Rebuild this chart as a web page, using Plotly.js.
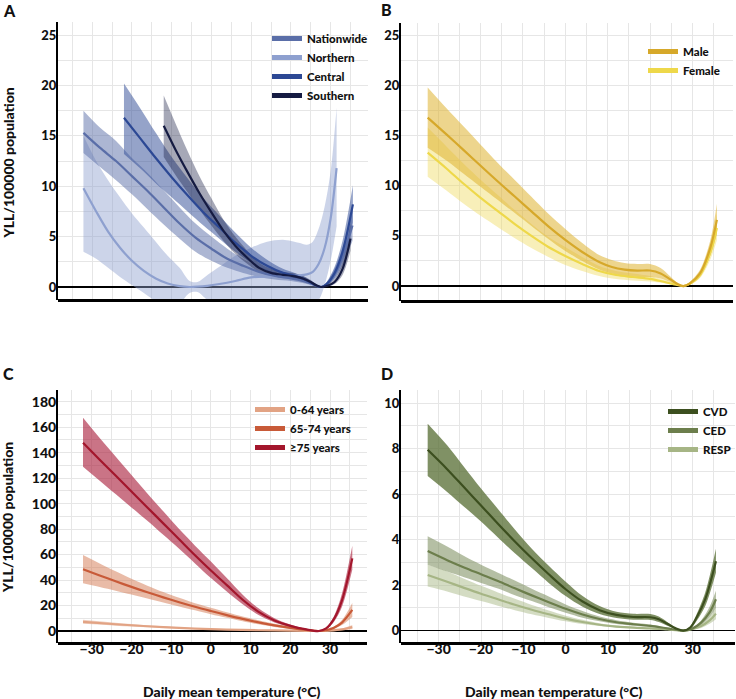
<!DOCTYPE html>
<html><head><meta charset="utf-8">
<script src="https://cdn.plot.ly/plotly-3.0.1.min.js"></script>
<style>html,body{margin:0;padding:0;background:#fff}#chart{width:736px;height:699px}</style>
</head><body><div id="chart"></div>
<script>
// ---------------- Panel A: region ----------------
const A_nat_T   = [-32.2, -28, -24, -20, -16, -12, -8, -4, 0, 4, 8, 12, 16, 20, 23, 25, 26.5, 27.6, 29, 31, 33, 35.5];
const A_nat_mid = [15.3, 13.8, 12.5, 11.0, 9.5, 7.9, 6.3, 4.9, 3.8, 2.8, 2.1, 1.5, 1.1, 0.85, 0.6, 0.35, 0.1, 0, 0.3, 1.3, 3.0, 6.1];
const A_nat_lo  = [13.3, 11.9, 10.6, 9.2, 7.7, 6.2, 4.8, 3.5, 2.6, 1.9, 1.4, 1.0, 0.75, 0.6, 0.4, 0.2, 0.05, 0, 0.15, 0.8, 2.1, 4.6];
const A_nat_hi  = [17.5, 15.8, 14.5, 12.8, 11.3, 9.6, 7.9, 6.3, 5.0, 3.8, 2.8, 2.0, 1.45, 1.1, 0.8, 0.5, 0.15, 0, 0.45, 1.8, 3.9, 7.6];

const A_nor_T   = [-32.2, -29, -26, -23, -20, -17, -14, -11, -8, -5.5, -3.5, -1, 2, 6, 10, 14, 18, 22, 24, 25.5, 27, 28.5, 30, 31.5];
const A_nor_mid = [9.8, 7.5, 5.5, 3.9, 2.6, 1.6, 0.85, 0.35, 0.08, 0, 0.03, 0.12, 0.3, 0.6, 0.95, 1.05, 1.1, 1.15, 1.25, 1.5, 2.3, 3.9, 6.8, 11.8];
const A_nor_lo  = [3.5, 2.8, 1.9, 1.0, 0.2, -0.6, -1.4, -1.9, -1.6, -0.6, -0.5, -1.3, -2.0, -2.6, -2.9, -3.0, -2.9, -2.6, -2.2, -1.8, -1.3, 0.2, 2.6, 6.0];
const A_nor_hi  = [15.0, 12.5, 10.6, 8.9, 7.3, 5.9, 4.5, 3.1, 1.9, 0.6, 0.5, 1.2, 2.0, 3.1, 3.9, 4.5, 4.7, 4.4, 4.2, 4.5, 5.8, 8.0, 11.5, 17.8];

const A_cen_T   = [-22, -18, -14, -10, -6, -2, 2, 6, 10, 14, 18, 21, 23, 25, 26.5, 27.6, 29, 31, 33, 35.6];
const A_cen_mid = [16.8, 14.8, 12.8, 10.9, 9.1, 7.4, 5.9, 4.4, 3.1, 2.1, 1.4, 1.1, 0.85, 0.45, 0.12, 0, 0.3, 1.4, 3.5, 8.2];
const A_cen_lo  = [13.2, 11.8, 10.3, 8.9, 7.5, 6.1, 4.8, 3.5, 2.4, 1.6, 1.05, 0.8, 0.6, 0.3, 0.08, 0, 0.15, 0.9, 2.5, 6.4];
const A_cen_hi  = [20.2, 17.8, 15.3, 12.9, 10.8, 8.8, 7.1, 5.4, 3.9, 2.7, 1.8, 1.4, 1.1, 0.6, 0.18, 0, 0.5, 2.0, 4.6, 10.1];

const A_sou_T   = [-12, -9, -6, -3, 0, 3, 6, 9, 12, 15, 18, 21, 23, 25, 26.5, 27.6, 29, 31, 33, 35];
const A_sou_mid = [16.0, 13.6, 11.4, 9.3, 7.4, 5.6, 4.1, 2.9, 1.9, 1.4, 1.2, 1.05, 0.85, 0.5, 0.15, 0, 0.1, 0.5, 1.8, 4.8];
const A_sou_lo  = [12.9, 11.1, 9.4, 7.7, 6.1, 4.6, 3.3, 2.3, 1.5, 1.1, 0.95, 0.8, 0.6, 0.35, 0.1, 0, 0.05, 0.3, 1.2, 3.6];
const A_sou_hi  = [19.0, 16.2, 13.5, 11.0, 8.8, 6.7, 5.0, 3.6, 2.4, 1.8, 1.5, 1.35, 1.1, 0.7, 0.2, 0, 0.2, 0.8, 2.5, 6.3];

// ---------------- Panel B: sex ----------------
const B_male_T   = [-32.5, -28, -24, -20, -16, -12, -8, -4, 0, 4, 8, 11, 14, 17, 20, 22.5, 24.8, 26.5, 27.9, 29.5, 31.8, 34.2, 35.8];
const B_male_mid = [16.8, 15.1, 13.55, 12.0, 10.45, 8.95, 7.45, 5.95, 4.6, 3.4, 2.4, 1.9, 1.64, 1.54, 1.55, 1.26, 0.67, 0.2, 0, 0.3, 1.26, 3.75, 6.6];
const B_male_lo  = [13.8, 12.5, 11.2, 9.9, 8.6, 7.3, 6.0, 4.7, 3.5, 2.5, 1.65, 1.25, 1.0, 0.9, 0.9, 0.75, 0.4, 0.1, 0, 0.15, 0.9, 3.0, 5.2];
const B_male_hi  = [19.8, 17.7, 15.9, 14.1, 12.3, 10.6, 8.9, 7.2, 5.7, 4.3, 3.1, 2.6, 2.3, 2.2, 2.2, 1.8, 0.95, 0.3, 0, 0.45, 1.6, 4.5, 8.2];

const B_fem_T   = [-32.5, -28, -24, -20, -16, -12, -8, -4, 0, 4, 8, 12, 16, 20, 23, 25.5, 27.9, 29.5, 31.8, 34.2, 35.8];
const B_fem_mid = [13.3, 11.7, 10.2, 8.8, 7.5, 6.2, 5.0, 3.9, 3.0, 2.2, 1.5, 1.1, 0.9, 0.72, 0.45, 0.2, 0, 0.25, 1.1, 3.3, 5.8];
const B_fem_lo  = [10.9, 9.5, 8.2, 7.0, 5.9, 4.8, 3.8, 2.9, 2.1, 1.5, 1.0, 0.7, 0.55, 0.45, 0.3, 0.12, 0, 0.12, 0.8, 2.6, 4.6];
const B_fem_hi  = [15.8, 13.9, 12.2, 10.6, 9.1, 7.6, 6.2, 4.9, 3.9, 2.9, 2.0, 1.5, 1.25, 1.0, 0.65, 0.3, 0, 0.4, 1.4, 4.0, 7.2];

// ---------------- Panel C: age ----------------
const C_T      = [-32.2, -28, -24, -20, -16, -12, -8, -4, 0, 4, 8, 12, 16, 20, 24, 27.2, 29, 31, 33, 35.6];
const C_o75_mid = [147.8, 134.5, 122, 109.5, 97, 84.5, 72, 59.5, 47.5, 36, 24.5, 15, 8.3, 4.0, 1.2, 0, 2.0, 9.5, 24, 57];
const C_o75_lo  = [129, 118, 107.5, 97, 86.5, 75.5, 64.5, 53, 41.5, 31, 21, 12.5, 6.7, 3.1, 0.9, 0, 1.4, 7.3, 19, 48];
const C_o75_hi  = [167.4, 151.5, 137, 122.5, 108, 94, 80, 67, 54.5, 41.5, 28.5, 17.8, 10, 5.0, 1.5, 0, 2.6, 11.8, 29.5, 67];
const C_m65_mid = [48.4, 43.6, 39.0, 34.6, 30.4, 26.4, 22.6, 19.0, 15.7, 12.5, 9.5, 6.8, 4.4, 2.4, 0.8, 0, 0.6, 2.6, 6.6, 16.5];
const C_m65_lo  = [37.4, 34.5, 31.6, 28.6, 25.5, 22.4, 19.3, 16.2, 13.2, 10.3, 7.6, 5.2, 3.2, 1.6, 0.5, 0, 0.3, 1.7, 4.6, 11];
const C_m65_hi  = [59.6, 53, 46.8, 41, 35.6, 30.6, 26.0, 21.8, 18.3, 14.8, 11.4, 8.4, 5.6, 3.2, 1.1, 0, 0.9, 3.5, 8.6, 22];
const C_y_T     = [-32.2, -24, -16, -8, 0, 8, 16, 24, 27.2, 30, 33, 35.6];
const C_y_mid   = [7.2, 5.3, 3.7, 2.4, 1.4, 0.8, 0.4, 0.1, 0, 0.3, 1.2, 3.0];
const C_y_lo    = [5.6, 4.2, 3.0, 1.9, 1.1, 0.6, 0.3, 0.05, 0, 0.1, 0.5, 1.5];
const C_y_hi    = [8.9, 6.5, 4.5, 2.9, 1.8, 1.05, 0.5, 0.15, 0, 0.5, 1.9, 4.6];

// ---------------- Panel D: cause ----------------
const D_cvd_T   = [-32.6, -28, -24, -20, -16, -12, -8, -4, 0, 4, 8, 12, 16, 20, 22, 24, 26, 27.8, 29.5, 31, 33, 35.5];
const D_cvd_mid = [7.95, 7.1, 6.3, 5.5, 4.7, 3.92, 3.18, 2.48, 1.82, 1.28, 0.9, 0.69, 0.6, 0.59, 0.5, 0.3, 0.1, 0, 0.15, 0.6, 1.4, 3.05];
const D_cvd_lo  = [6.8, 6.1, 5.45, 4.8, 4.1, 3.4, 2.75, 2.1, 1.52, 1.05, 0.73, 0.56, 0.48, 0.47, 0.38, 0.22, 0.07, 0, 0.1, 0.45, 1.1, 2.55];
const D_cvd_hi  = [9.1, 8.15, 7.2, 6.25, 5.35, 4.45, 3.6, 2.85, 2.15, 1.52, 1.08, 0.83, 0.74, 0.73, 0.62, 0.38, 0.13, 0, 0.2, 0.75, 1.7, 3.6];
const D_T       = [-32.6, -28, -24, -20, -16, -12, -8, -4, 0, 4, 8, 12, 16, 20, 24, 27.8, 30, 32, 34, 35.5];
const D_ced_mid = [3.5, 3.1, 2.78, 2.48, 2.18, 1.86, 1.55, 1.25, 0.96, 0.71, 0.51, 0.37, 0.28, 0.21, 0.1, 0, 0.1, 0.35, 0.8, 1.38];
const D_ced_lo  = [2.9, 2.6, 2.35, 2.1, 1.85, 1.56, 1.3, 1.03, 0.79, 0.57, 0.41, 0.29, 0.22, 0.16, 0.07, 0, 0.06, 0.25, 0.6, 1.0];
const D_ced_hi  = [4.15, 3.7, 3.28, 2.9, 2.55, 2.2, 1.84, 1.5, 1.15, 0.86, 0.62, 0.46, 0.35, 0.27, 0.13, 0, 0.14, 0.45, 1.05, 1.75];
const D_resp_mid = [2.45, 2.15, 1.88, 1.62, 1.38, 1.14, 0.92, 0.72, 0.53, 0.38, 0.26, 0.18, 0.13, 0.1, 0.05, 0, 0.07, 0.2, 0.45, 0.75];
const D_resp_lo  = [1.94, 1.72, 1.5, 1.3, 1.1, 0.9, 0.72, 0.56, 0.41, 0.29, 0.2, 0.14, 0.1, 0.07, 0.03, 0, 0.04, 0.12, 0.3, 0.5];
const D_resp_hi  = [2.9, 2.6, 2.28, 1.97, 1.68, 1.4, 1.13, 0.89, 0.66, 0.48, 0.33, 0.23, 0.17, 0.13, 0.07, 0, 0.1, 0.28, 0.6, 1.0];

const xTickVals = [-30, -20, -10, 0, 10, 20, 30];
const namesA = ['Nationwide', 'Northern', 'Central', 'Southern'];
const namesB = ['Male', 'Female'];
const namesC = ['0-64 years', '65-74 years', '\u226575 years'];
const namesD = ['CVD', 'CED', 'RESP'];

// ---------------- helpers ----------------
const FONT = 'Lato, "Open Sans", sans-serif';
const WEIGHT = 900;
const traces = [];
function band(x, lo, hi, fill, ax) {
  traces.push({x: x, y: lo, xaxis: 'x' + ax, yaxis: 'y' + ax, mode: 'lines',
    line: {width: 0, shape: 'spline', smoothing: 0.9}, showlegend: false, hoverinfo: 'skip'});
  traces.push({x: x, y: hi, xaxis: 'x' + ax, yaxis: 'y' + ax, mode: 'lines', fill: 'tonexty',
    fillcolor: fill, line: {width: 0, shape: 'spline', smoothing: 0.9}, showlegend: false, hoverinfo: 'skip'});
}
function line(x, y, color, ax) {
  traces.push({x: x, y: y, xaxis: 'x' + ax, yaxis: 'y' + ax, mode: 'lines',
    line: {color: color, width: 2.2, shape: 'spline', smoothing: 0.9}, showlegend: false});
}
function key(name, color, ax, leg) {
  traces.push({x: [null], y: [null], xaxis: 'x' + ax, yaxis: 'y' + ax, mode: 'lines', name: name,
    line: {color: color, width: 5}, legend: leg, showlegend: true, hoverinfo: 'skip'});
}

// A
const cNat = '#5a6ea8', cNor = '#8ea0cf', cCen = '#2c4894', cSou = '#151b42';
band(A_nor_T, A_nor_lo, A_nor_hi, 'rgba(142,160,207,0.45)', '');
band(A_nat_T, A_nat_lo, A_nat_hi, 'rgba(90,110,168,0.5)', '');
band(A_cen_T, A_cen_lo, A_cen_hi, 'rgba(44,72,148,0.5)', '');
band(A_sou_T, A_sou_lo, A_sou_hi, 'rgba(21,27,66,0.38)', '');
line(A_nor_T, A_nor_mid, cNor, '');
line(A_nat_T, A_nat_mid, cNat, '');
line(A_cen_T, A_cen_mid, cCen, '');
line(A_sou_T, A_sou_mid, cSou, '');
key(namesA[0], cNat, '', 'legend'); key(namesA[1], cNor, '', 'legend');
key(namesA[2], cCen, '', 'legend'); key(namesA[3], cSou, '', 'legend');

// B
const cMale = '#d6a82a', cFem = '#eed84a';
band(B_fem_T, B_fem_lo, B_fem_hi, 'rgba(240,220,100,0.45)', '2');
band(B_male_T, B_male_lo, B_male_hi, 'rgba(222,178,48,0.55)', '2');
line(B_fem_T, B_fem_mid, cFem, '2');
line(B_male_T, B_male_mid, cMale, '2');
key(namesB[0], cMale, '2', 'legend2'); key(namesB[1], cFem, '2', 'legend2');

// C
const cY = '#e2a384', cM = '#c85a38', cO = '#a3162c';
band(C_y_T, C_y_lo, C_y_hi, 'rgba(226,163,132,0.5)', '3');
band(C_T, C_m65_lo, C_m65_hi, 'rgba(212,120,80,0.5)', '3');
band(C_T, C_o75_lo, C_o75_hi, 'rgba(170,30,60,0.62)', '3');
line(C_y_T, C_y_mid, cY, '3');
line(C_T, C_m65_mid, cM, '3');
line(C_T, C_o75_mid, cO, '3');
key(namesC[0], cY, '3', 'legend3'); key(namesC[1], cM, '3', 'legend3'); key(namesC[2], cO, '3', 'legend3');

// D
const cCvd = '#3c4f1f', cCed = '#6c7e4c', cResp = '#a6b585';
band(D_T, D_resp_lo, D_resp_hi, 'rgba(170,185,135,0.5)', '4');
band(D_T, D_ced_lo, D_ced_hi, 'rgba(120,138,90,0.55)', '4');
band(D_cvd_T, D_cvd_lo, D_cvd_hi, 'rgba(85,108,50,0.75)', '4');
line(D_T, D_resp_mid, cResp, '4');
line(D_T, D_ced_mid, cCed, '4');
line(D_cvd_T, D_cvd_mid, cCvd, '4');
key(namesD[0], cCvd, '4', 'legend4'); key(namesD[1], cCed, '4', 'legend4'); key(namesD[2], cResp, '4', 'legend4');

// ---------------- layout ----------------
const W = 736, H = 699;
const px = v => v / W, py = v => 1 - v / H;
const GRID = '#e6e6e6';
function xAxis(dom, range, labels) {
  return {domain: dom, range: range, anchor: 'free', showline: true, linecolor: '#000', linewidth: 3,
    showgrid: true, gridcolor: GRID, gridwidth: 1, zeroline: false,
    tickmode: 'array', tickvals: xTickVals, showticklabels: labels,
    ticks: '', ticklabelstandoff: -8,
    minor: {dtick: 5, tick0: 0, showgrid: true, gridcolor: GRID, gridwidth: 1},
    tickfont: {family: FONT, size: 14, color: '#111', weight: WEIGHT}, fixedrange: true};
}
function yAxis(dom, range, dtick, minor, size) {
  return {domain: dom, range: range, showline: true, linecolor: '#000', linewidth: 2,
    showgrid: true, gridcolor: GRID, gridwidth: 1, dtick: dtick, tick0: 0,
    minor: {dtick: minor, tick0: 0, showgrid: true, gridcolor: GRID, gridwidth: 1},
    zeroline: true, zerolinecolor: '#000', zerolinewidth: 1.6, ticks: '', ticklabelstandoff: -3,
    tickfont: {family: FONT, size: size, color: '#111', weight: WEIGHT}, fixedrange: true};
}
const legFont = {family: FONT, size: 11.5, color: '#111', weight: WEIGHT};
function leg(x, y) {
  return {x: x, y: y, xanchor: 'left', yanchor: 'top', bgcolor: 'rgba(0,0,0,0)', borderwidth: 0,
    font: legFont, tracegroupgap: 0, traceorder: 'normal', itemclick: false, itemdoubleclick: false};
}
const ann = (text, x, y, size, angle) => ({text: text, x: x, y: y, xref: 'paper', yref: 'paper',
  xanchor: 'center', yanchor: 'middle', showarrow: false, textangle: angle || 0,
  font: {family: FONT, size: size, color: '#111', weight: WEIGHT}});

const layout = {
  width: W, height: H, margin: {l: 0, r: 0, t: 0, b: 0},
  paper_bgcolor: '#fff', plot_bgcolor: '#fff', showlegend: true,
  xaxis:  Object.assign(xAxis([px(58), px(368)], [-38.6, 39.4], false), {position: py(300)}),
  yaxis:  Object.assign(yAxis([py(300), py(22)], [-1.29, 26.3], 5, 2.5, 13), {anchor: 'x'}),
  xaxis2: Object.assign(xAxis([px(401), px(733)], [-38.8, 39.6], false), {position: py(300.7)}),
  yaxis2: Object.assign(yAxis([py(300.7), py(23.3)], [-1.46, 26.2], 5, 2.5, 13), {anchor: 'x2'}),
  xaxis3: Object.assign(xAxis([px(58), px(367)], [-38.5, 39.3], true), {position: py(642.7)}),
  yaxis3: Object.assign(yAxis([py(642.7), py(390)], [-9.2, 189.2], 20, 10, 14), {anchor: 'x3'}),
  xaxis4: Object.assign(xAxis([px(401), px(735)], [-38.9, 40.0], true), {position: py(642.7)}),
  yaxis4: Object.assign(yAxis([py(642.7), py(390)], [-0.53, 10.58], 2, 1, 13), {anchor: 'x4'}),
  legend:  leg(px(267), py(24)),
  legend2: leg(px(643), py(37)),
  legend3: leg(px(250), py(395)),
  legend4: leg(px(663), py(397)),
  annotations: [
    ann('A', px(9), py(11), 16), ann('B', px(386), py(10), 16),
    ann('C', px(8.5), py(373), 16), ann('D', px(386.5), py(373), 16),
    ann('YLL/100000 population', px(8.5), py(163), 14, -90),
    ann('YLL/100000 population', px(7), py(518), 14, -90),
    ann('Daily mean temperature (\u00b0C)', px(231.7), py(691), 14),
    ann('Daily mean temperature (\u00b0C)', px(553.8), py(691), 14)
  ]
};

Plotly.newPlot('chart', traces, layout, {displayModeBar: false, staticPlot: true});
</script></body></html>
